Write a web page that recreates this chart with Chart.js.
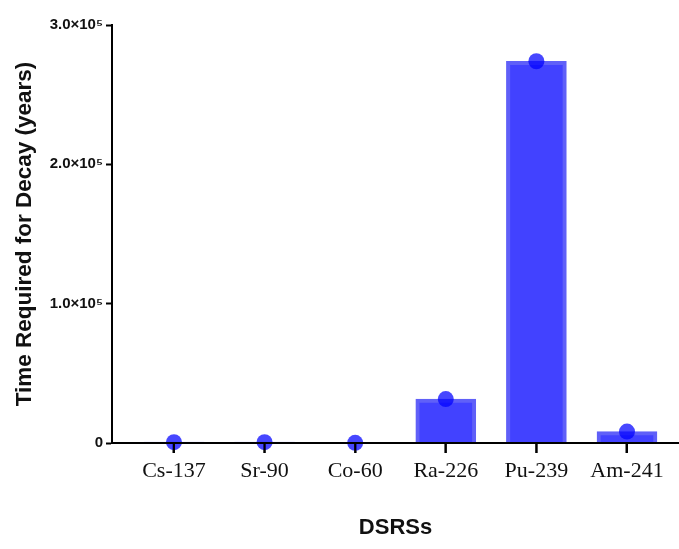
<!DOCTYPE html>
<html>
<head>
<meta charset="utf-8">
<script src="https://cdn.jsdelivr.net/npm/chart.js@4.4.1/dist/chart.umd.min.js"></script>
<style>
  html, body { margin: 0; padding: 0; background: #fff; }
  canvas { display: block; }
</style>
</head>
<body>
<canvas id="decayChart" width="679" height="549"></canvas>
<script>
// DSRS isotopes and time needed to decay (years)
const isotopes = ["Cs-137", "Sr-90", "Co-60", "Ra-226", "Pu-239", "Am-241"];
const decayYears = [600, 580, 110, 31500, 274000, 8200];
const yTicks = [0, 100000, 200000, 300000];

const barFill = "rgb(66,66,255)";
const barEdge = "rgb(96,96,248)";
const dotColor = "rgba(0,0,255,0.72)";

function yLabel(v) {
  if (v === 0) return "0";
  return (v / 1e5).toFixed(1) + "\u00d710\u2075";
}

const points = decayYears.map((v, i) => ({ x: i, y: v }));

// GraphPad draws the x axis over the marks, so paint it again on top
const axisOnTop = {
  id: "axisOnTop",
  afterDatasetsDraw(chart) {
    const { ctx, chartArea, scales } = chart;
    const y0 = scales.y.getPixelForValue(0);
    ctx.save();
    ctx.strokeStyle = "#000";
    ctx.lineWidth = 2;
    ctx.beginPath();
    ctx.moveTo(chartArea.left - 1, y0);
    ctx.lineTo(chartArea.right, y0);
    isotopes.forEach((_, i) => {
      const x = scales.x.getPixelForValue(i);
      ctx.moveTo(x, y0);
      ctx.lineTo(x, y0 + 10);
    });
    ctx.stroke();
    ctx.restore();
  }
};

new Chart(document.getElementById("decayChart"), {
  type: "bar",
  data: {
    datasets: [
      {
        type: "scatter",
        data: points,
        backgroundColor: dotColor,
        borderColor: dotColor,
        pointRadius: 8,
        pointHoverRadius: 8,
        borderWidth: 0,
        clip: false,
        order: 0
      },
      {
        type: "bar",
        data: points,
        backgroundColor: barFill,
        borderColor: barEdge,
        borderWidth: 4,
        borderSkipped: "start",
        barThickness: 60,
        order: 1
      }
    ]
  },
  options: {
    responsive: false,
    animation: false,
    layout: { autoPadding: false, padding: { top: 25, right: 0, bottom: 0, left: 0 } },
    plugins: { legend: { display: false }, tooltip: { enabled: false } },
    scales: {
      x: {
        type: "linear",
        min: -0.684,
        max: 5.574,
        offset: false,
        afterBuildTicks: (s) => { s.ticks = isotopes.map((_, i) => ({ value: i })); },
        afterFit: (s) => { s.height = 106; s.paddingLeft = 0; s.paddingRight = 0; },
        grid: { offset: false, drawOnChartArea: false, drawTicks: true, tickLength: 10, tickWidth: 2, tickColor: "#000" },
        border: { color: "#000", width: 2 },
        ticks: {
          autoSkip: false,
          maxRotation: 0,
          padding: 5,
          color: "#111",
          font: { family: "'Liberation Serif', 'Times New Roman', serif", size: 22 },
          callback: (v) => isotopes[v]
        },
        title: {
          display: true,
          text: "DSRSs",
          color: "#111",
          font: { family: "'Liberation Sans', Arial, sans-serif", size: 22, weight: "bold" },
          padding: { top: 8, bottom: 8 }
        }
      },
      y: {
        min: 0,
        max: 300000,
        afterBuildTicks: (s) => { s.ticks = yTicks.map((v) => ({ value: v })); },
        afterFit: (s) => { s.width = 112; s.paddingTop = 0; s.paddingBottom = 0; },
        grid: { drawOnChartArea: false, drawTicks: true, tickLength: 6, tickWidth: 2, tickColor: "#000" },
        border: { color: "#000", width: 2 },
        ticks: {
          padding: 3,
          color: "#111",
          font: { family: "'Liberation Sans', Arial, sans-serif", size: 15, weight: "bold" },
          callback: (v) => yLabel(v)
        },
        title: {
          display: true,
          text: "Time Required for Decay (years)",
          color: "#111",
          font: { family: "'Liberation Sans', Arial, sans-serif", size: 22.5, weight: "bold" },
          padding: { top: 11, bottom: 11 }
        }
      }
    }
  },
  plugins: [axisOnTop]
});
</script>
</body>
</html>
